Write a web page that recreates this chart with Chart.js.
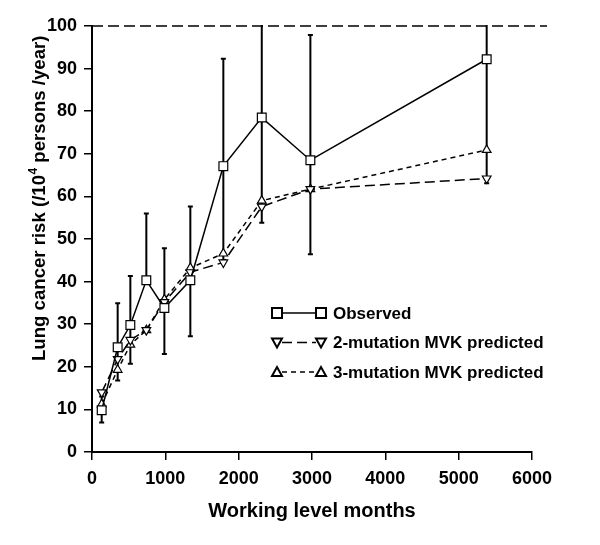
<!DOCTYPE html>
<html lang="en">
  <head>
    <meta charset="UTF-8" />
    <title>Lung cancer risk vs working level months</title>
    <style>
      html,
      body {
        margin: 0;
        padding: 0;
        background: #fff;
      }
      #wrap {
        width: 600px;
        height: 545px;
      }
    </style>
  </head>
  <body>
    <div id="wrap"><canvas id="riskChart" width="600" height="545"></canvas></div>

    <script src="https://cdn.jsdelivr.net/npm/chart.js"></script>
    <script>
      // cumulative exposure (WLM)
      const wlm = [132, 350, 523, 741, 987, 1341, 1791, 2315, 2978, 5382];
      // observed risk and its error bar ends
      const observed = [9.8, 24.6, 29.8, 40.3, 33.8, 40.3, 67.1, 78.5, 68.5, 92.2];
      const obsLow = [6.9, 16.8, 20.7, 40.3, 23.0, 27.2, 45.0, 53.8, 46.4, 63.1];
      const obsHigh = [13.0, 34.9, 41.3, 56.0, 47.8, 57.6, 92.3, 105, 97.9, 105];
      // model predictions
      const mvk2 = [14.0, 21.8, 26.3, 28.6, 35.2, 42.2, 44.5, 57.6, 61.7, 64.2];
      const mvk3 = [11.2, 19.3, 25.2, 28.6, 35.8, 43.2, 46.6, 59.0, 61.7, 70.9];

      const xTicks = [0, 1000, 2000, 3000, 4000, 5000, 6000];
      const yTicks = [0, 10, 20, 30, 40, 50, 60, 70, 80, 90, 100];

      const seriesNames = ["Observed", "2-mutation MVK predicted", "3-mutation MVK predicted"];
      const yTitle = ["Lung cancer risk (/10", "4", " persons /year)"];

      const FONT = "'Liberation Sans', Arial, sans-serif";
      Chart.defaults.font.family = FONT;
      Chart.defaults.color = "#000";

      const toPts = (ys) => wlm.map((x, i) => ({ x: x, y: ys[i] }));

      // error bars + dashed line at 100, drawn under the series
      const errorBars = {
        id: "errorBars",
        beforeDatasetsDraw(chart) {
          const { ctx, chartArea, scales } = chart;
          const x = scales.x;
          const y = scales.y;
          ctx.save();
          ctx.strokeStyle = "#000";
          ctx.lineWidth = 1.5;
          ctx.setLineDash([11, 5]);
          const yTop = y.getPixelForValue(yTicks[yTicks.length - 1]);
          ctx.beginPath();
          ctx.moveTo(chartArea.left, yTop);
          ctx.lineTo(chartArea.right + 15, yTop);
          ctx.stroke();
          ctx.setLineDash([]);

          ctx.beginPath();
          ctx.rect(chartArea.left, chartArea.top - 1, chartArea.width, chartArea.height + 1);
          ctx.clip();
          ctx.lineWidth = 2;
          wlm.forEach((v, i) => {
            const px = x.getPixelForValue(v);
            const lo = y.getPixelForValue(obsLow[i]);
            const hi = y.getPixelForValue(obsHigh[i]);
            ctx.beginPath();
            ctx.moveTo(px, lo);
            ctx.lineTo(px, hi);
            ctx.moveTo(px - 2.5, lo);
            ctx.lineTo(px + 2.5, lo);
            ctx.moveTo(px - 2.5, hi);
            ctx.lineTo(px + 2.5, hi);
            ctx.stroke();
          });
          ctx.restore();
        },
      };

      function marker(ctx, kind, cx, cy) {
        ctx.beginPath();
        if (kind === "square") {
          ctx.rect(cx - 5, cy - 5, 10, 10);
        } else if (kind === "down") {
          ctx.moveTo(cx - 5, cy - 4);
          ctx.lineTo(cx + 5, cy - 4);
          ctx.lineTo(cx, cy + 5);
          ctx.closePath();
        } else {
          ctx.moveTo(cx - 5, cy + 4);
          ctx.lineTo(cx + 5, cy + 4);
          ctx.lineTo(cx, cy - 5);
          ctx.closePath();
        }
        ctx.fillStyle = "#fff";
        ctx.fill();
        ctx.stroke();
      }

      // legend with marker-line-marker samples, and the y title with a real superscript
      const extras = {
        id: "extras",
        afterDraw(chart) {
          const ctx = chart.ctx;
          const rows = [
            { kind: "square", dash: [] },
            { kind: "down", dash: [10, 5] },
            { kind: "up", dash: [5, 4] },
          ];
          const x0 = 277,
            x1 = 321,
            y0 = 313,
            gap = 29.5;
          ctx.save();
          rows.forEach((r, i) => {
            const yy = y0 + i * gap;
            ctx.strokeStyle = "#000";
            ctx.lineWidth = 1.5;
            ctx.setLineDash(r.dash);
            ctx.beginPath();
            ctx.moveTo(x0 + 5, yy);
            ctx.lineTo(x1 - 5, yy);
            ctx.stroke();
            ctx.setLineDash([]);
            ctx.lineWidth = 2;
            marker(ctx, r.kind, x0, yy);
            marker(ctx, r.kind, x1, yy);
            ctx.fillStyle = "#000";
            ctx.font = "bold 17px " + FONT;
            ctx.textBaseline = "middle";
            ctx.textAlign = "left";
            ctx.fillText(seriesNames[i], 333, yy + 1);
          });

          // rotated y title
          ctx.translate(45, 361);
          ctx.rotate(-Math.PI / 2);
          ctx.textBaseline = "alphabetic";
          ctx.textAlign = "left";
          ctx.fillStyle = "#000";
          let tx = 0;
          ctx.font = "bold 18.6px " + FONT;
          ctx.fillText(yTitle[0], tx, 0);
          tx += ctx.measureText(yTitle[0]).width;
          ctx.font = "bold 12px " + FONT;
          ctx.fillText(yTitle[1], tx + 0.5, -8);
          tx += ctx.measureText(yTitle[1]).width + 0.5;
          ctx.font = "bold 18.6px " + FONT;
          ctx.fillText(yTitle[2], tx, 0);
          ctx.restore();
        },
      };

      const common = {
        borderColor: "#000",
        borderWidth: 1.5,
        pointBackgroundColor: "#fff",
        pointBorderColor: "#000",
        pointBorderWidth: 1.2,
        showLine: true,
        tension: 0,
        clip: false,
      };

      new Chart(document.getElementById("riskChart"), {
        type: "scatter",
        data: {
          datasets: [
            Object.assign({}, common, {
              label: seriesNames[0],
              data: toPts(observed),
              pointStyle: "rect",
              pointRadius: 6.2,
              order: 0,
            }),
            Object.assign({}, common, {
              label: seriesNames[1],
              data: toPts(mvk2),
              pointStyle: "triangle",
              pointRotation: 180,
              pointRadius: 5,
              borderDash: [10, 5],
              order: 1,
            }),
            Object.assign({}, common, {
              label: seriesNames[2],
              data: toPts(mvk3),
              pointStyle: "triangle",
              pointRadius: 5,
              borderDash: [5, 4],
              order: 2,
            }),
          ],
        },
        options: {
          responsive: false,
          animation: false,
          layout: { padding: { top: 26, right: 68, bottom: 0, left: 0 } },
          plugins: {
            legend: { display: false },
            tooltip: { enabled: false },
          },
          scales: {
            x: {
              type: "linear",
              min: xTicks[0],
              max: xTicks[xTicks.length - 1],
              afterBuildTicks: (s) => {
                s.ticks = xTicks.map((v) => ({ value: v }));
              },
              afterFit: (s) => {
                s.height = 93;
              },
              grid: {
                drawOnChartArea: false,
                color: "#000",
                lineWidth: 1.5,
                tickLength: 8,
              },
              border: { color: "#000", width: 2 },
              ticks: {
                padding: 8,
                font: { size: 18, weight: "bold" },
                callback: (v) => String(v),
              },
              title: {
                display: true,
                text: "Working level months",
                font: { size: 20, weight: "bold" },
                padding: { top: 0, bottom: 22 },
              },
            },
            y: {
              type: "linear",
              min: yTicks[0],
              max: yTicks[yTicks.length - 1],
              afterBuildTicks: (s) => {
                s.ticks = yTicks.map((v) => ({ value: v }));
              },
              afterFit: (s) => {
                s.width = 92;
              },
              grid: {
                drawOnChartArea: false,
                color: "#000",
                lineWidth: 1.5,
                tickLength: 8,
              },
              border: { color: "#000", width: 2 },
              ticks: {
                padding: 7,
                font: { size: 18, weight: "bold" },
                callback: (v) => String(v),
              },
            },
          },
        },
        plugins: [errorBars, extras],
      });
    </script>
  </body>
</html>
